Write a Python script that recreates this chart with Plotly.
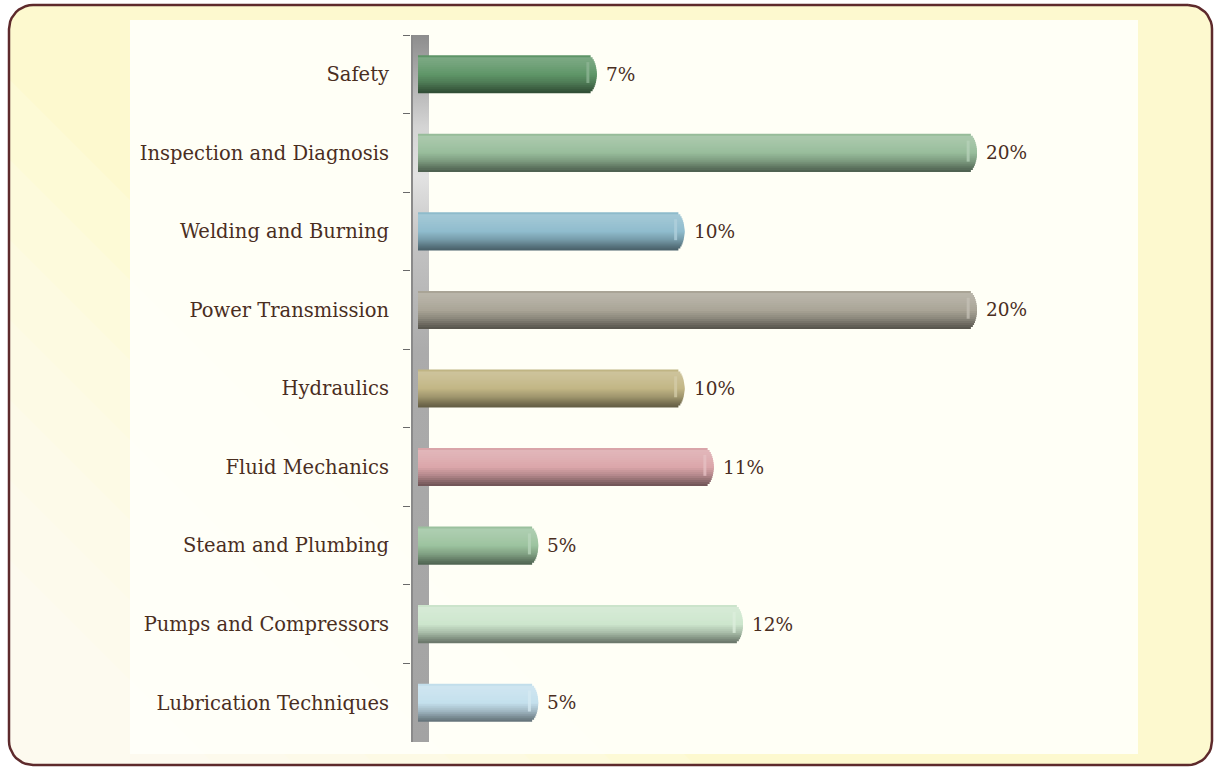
import plotly.graph_objects as go

# ---------------- data ----------------
categories = ["Safety", "Inspection and Diagnosis", "Welding and Burning",
              "Power Transmission", "Hydraulics", "Fluid Mechanics",
              "Steam and Plumbing", "Pumps and Compressors", "Lubrication Techniques"]
values = [7, 20, 10, 20, 10, 11, 5, 12, 5]
value_labels = ["7%", "20%", "10%", "20%", "10%", "11%", "5%", "12%", "5%"]
bar_colors = ["#5f9668", "#98bd9b", "#8fbccd", "#aaa597", "#c2b685",
              "#dba6aa", "#9cc39f", "#cde6cd", "#c4e0ed"]

# ---------------- layout geometry (pixels) ----------------
W, H = 1215, 770
PLOT_L, PLOT_R, PLOT_T, PLOT_B = 411, 1140, 35, 742
ZERO_PX = 392.0          # pixel where 0 % would sit (3-D depth offset)
PX_PER_PCT = 29.25
X0 = (PLOT_L - ZERO_PX) / PX_PER_PCT
X1 = (PLOT_R - ZERO_PX) / PX_PER_PCT
BAR_START = (418 - ZERO_PX) / PX_PER_PCT
CAP_R = 9 / PX_PER_PCT
BAR_W = 0.485
TEXT_COLOR = "#4a2e1f"
FONT = "DejaVu Serif"


def hex2rgb(h):
    h = h.lstrip("#")
    return [int(h[i:i + 2], 16) for i in (0, 2, 4)]


def shade(h, k):
    r = hex2rgb(h)
    if k >= 1:
        a = k - 1
        r = [c + (255 - c) * a for c in r]
    else:
        r = [c * k for c in r]
    return "rgb(%d,%d,%d)" % tuple(max(0, min(255, round(c))) for c in r)


# vertical shading profile of a cylinder (t = 0 top, 1 bottom)
profile = [(0.0, 0.9), (0.08, 1.18), (0.25, 1.12), (0.5, 1.0),
           (0.72, 0.82), (0.9, 0.6), (1.0, 0.5)]


def prof(t):
    for (t0, k0), (t1, k1) in zip(profile[:-1], profile[1:]):
        if t0 <= t <= t1:
            return k0 + (k1 - k0) * (t - t0) / (t1 - t0)
    return profile[-1][1]


fig = go.Figure()

# ---------------- background (pixel subplot x/y) ----------------
def rounded_pts(x0, y0, x1, y1, r, n=10):
    import math
    pts = []
    corners = [(x1 - r, y0 + r, -90, 0), (x1 - r, y1 - r, 0, 90),
               (x0 + r, y1 - r, 90, 180), (x0 + r, y0 + r, 180, 270)]
    for cx, cy, a0, a1 in corners:
        for i in range(n + 1):
            a = math.radians(a0 + (a1 - a0) * i / n)
            pts.append((cx + r * math.cos(a), cy + r * math.sin(a)))
    return pts


def clip_halfplane(pts, d):
    # keep x + (H - y) <= d
    f = lambda p: p[0] + (H - p[1]) - d
    out = []
    for i in range(len(pts)):
        a, b = pts[i], pts[(i + 1) % len(pts)]
        fa, fb = f(a), f(b)
        if fa <= 0:
            out.append(a)
        if (fa <= 0) != (fb <= 0):
            t = fa / (fa - fb)
            out.append((a[0] + (b[0] - a[0]) * t, a[1] + (b[1] - a[1]) * t))
    return out


def poly_trace(pts, **kw):
    xs = [p[0] for p in pts] + [pts[0][0]]
    ys = [p[1] for p in pts] + [pts[0][1]]
    return go.Scatter(x=xs, y=ys, mode="lines", fill="toself", xaxis="x", yaxis="y",
                      hoverinfo="skip", showlegend=False, **kw)


outer = rounded_pts(9, 5, 1212, 765, 24)
fig.add_trace(poly_trace(outer, fillcolor="#fdf9cf", line=dict(width=0)))
for d in [700, 620, 540, 460, 380, 300, 220]:
    clipped = clip_halfplane(outer, d)
    if len(clipped) > 2:
        fig.add_trace(poly_trace(clipped, fillcolor="rgba(255,255,252,0.16)",
                                 line=dict(width=0)))
inner = [(130, 20), (1138, 20), (1138, 754), (130, 754)]
fig.add_trace(poly_trace(inner, fillcolor="rgba(255,255,249,0.9)", line=dict(width=0)))
fig.add_trace(poly_trace(outer, fillcolor="rgba(0,0,0,0)",
                         line=dict(width=2.5, color="#5e2a2c")))
# 3-D wall behind the category axis (gradient stops given from top to bottom)
wall_stops_top_down = [(0, "#8d8d8d"), (0.04, "#a2a2a2"), (0.13, "#d4d4d4"),
                       (0.2, "#e2e2e2"), (0.3, "#c2c2c2"), (0.45, "#ababab"),
                       (1, "#a3a3a3")]
wall_scale = [[1 - p, c] for p, c in reversed(wall_stops_top_down)]
wall = [(411, 35), (429, 35), (429, 742), (411, 742)]
fig.add_trace(poly_trace(wall, line=dict(width=0), fillcolor="#a4a4a4",
                         fillgradient=dict(type="vertical", colorscale=wall_scale)))
fig.add_trace(poly_trace([(411, 35), (413, 35), (413, 742), (411, 742)],
                         line=dict(width=0), fillcolor="#8a8a8a"))

# ---------------- cylinder bars (subplot x2/y2) ----------------
N = 19
mid = N // 2
order = list(range(0, mid)) + list(range(N - 1, mid, -1)) + [mid]
for i in order:
    t0, t1 = i / N, (i + 1) / N
    tc = (t0 + t1) / 2
    u = 2 * tc - 1
    red = CAP_R * (1 - (max(0.0, 1 - u * u)) ** 0.5)
    if i < mid:
        s0, s1 = t0, 0.5
    elif i > mid:
        s0, s1 = 0.5, t1
    else:
        s0, s1 = t0, t1
    k = prof(tc)
    fig.add_trace(go.Bar(
        y=categories,
        x=[v - BAR_START - red for v in values],
        base=BAR_START,
        orientation="h",
        xaxis="x2", yaxis="y2",
        offset=-BAR_W / 2 + s0 * BAR_W,
        width=(s1 - s0) * BAR_W,
        opacity=1,
        marker=dict(color=[shade(c, k) for c in bar_colors], line=dict(width=0)),
        hoverinfo="skip",
        showlegend=False,
    ))

# light streak on the rounded end cap
HL_W = 3 / PX_PER_PCT
fig.add_trace(go.Bar(
    y=categories,
    x=[HL_W] * len(values),
    base=[v - CAP_R * 1.15 for v in values],
    orientation="h",
    xaxis="x2", yaxis="y2",
    offset=-BAR_W / 2 + 0.18 * BAR_W,
    width=0.55 * BAR_W,
    marker=dict(color=[shade(c, 1.3) for c in bar_colors], line=dict(width=0),
                opacity=0.75),
    hoverinfo="skip",
    showlegend=False,
))

annotations = [dict(x=v, y=c, xref="x2", yref="y2", text=t, showarrow=False,
                    xanchor="left", xshift=7,
                    font=dict(family=FONT, size=18.5, color=TEXT_COLOR))
               for c, v, t in zip(categories, values, value_labels)]

fig.update_layout(
    width=W, height=H,
    margin=dict(l=0, r=0, t=0, b=0, pad=0),
    paper_bgcolor="white",
    plot_bgcolor="rgba(0,0,0,0)",
    barmode="overlay",
    annotations=annotations,
    xaxis=dict(domain=[0, 1], range=[0, W], visible=False, fixedrange=True),
    yaxis=dict(domain=[0, 1], range=[H, 0], visible=False, fixedrange=True),
    xaxis2=dict(domain=[PLOT_L / W, PLOT_R / W], range=[X0, X1], visible=False,
                fixedrange=True, anchor="y2"),
    yaxis2=dict(domain=[1 - PLOT_B / H, 1 - PLOT_T / H], anchor="x2",
                type="category", categoryorder="array", categoryarray=categories,
                autorange="reversed", tickson="boundaries", ticks="outside",
                ticklen=7, tickcolor="#6a6a6a", tickwidth=1, showline=False,
                showgrid=False, zeroline=False, ticklabelstandoff=21,
                tickfont=dict(family=FONT, size=19.5, color=TEXT_COLOR)),
)

fig.write_html("out.html")
